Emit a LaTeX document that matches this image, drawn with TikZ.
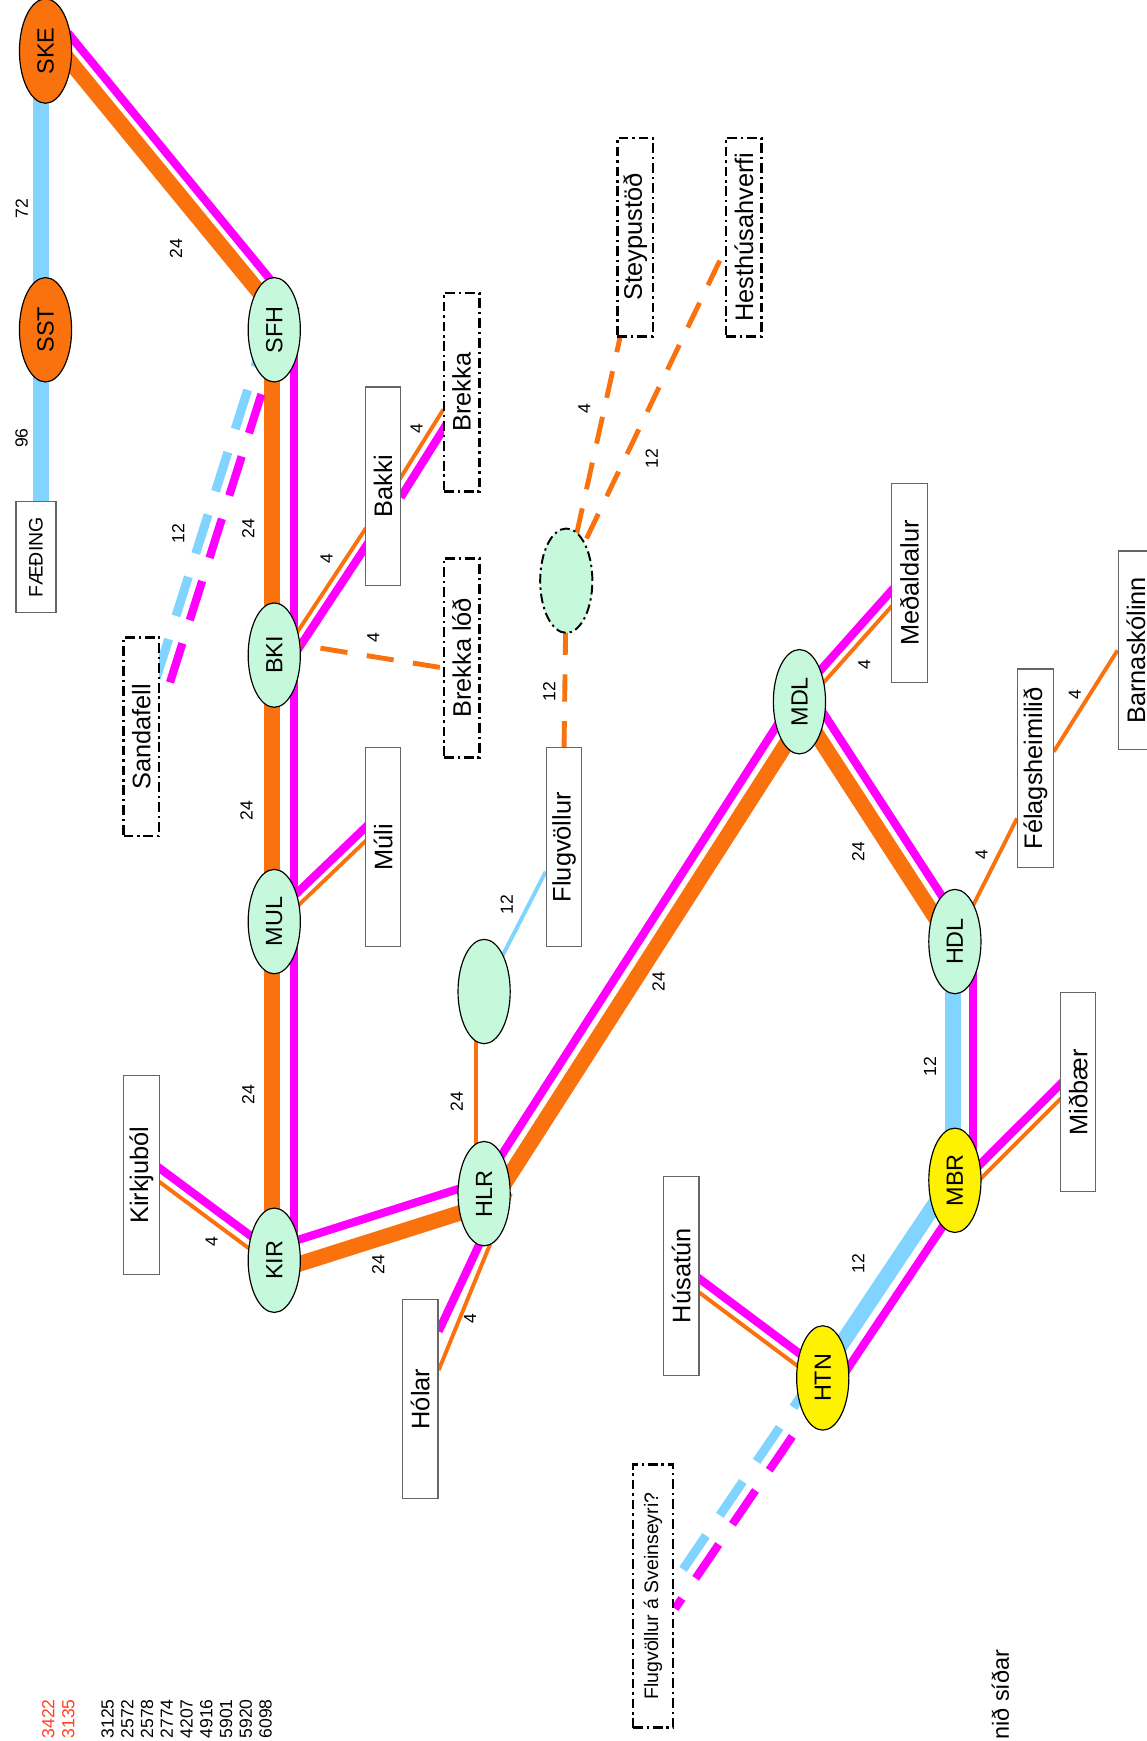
\documentclass[tikz,border=0pt]{standalone}
\usepackage{fontspec}
\setmainfont{Liberation Sans}
\usetikzlibrary{shapes.geometric}
\pgfdeclarelayer{back}
\pgfsetlayers{back,main}
\definecolor{pipeorange}{RGB}{250,114,14}
\definecolor{pipepink}{RGB}{255,0,255}
\definecolor{pipeblue}{RGB}{128,212,255}
\definecolor{stationgreen}{RGB}{198,249,220}
\definecolor{numred}{RGB}{255,64,32}
\newcommand{\up}[1]{\rotatebox{90}{#1}}

\begin{document}
\begin{tikzpicture}[x=0.02cm, y=-0.02cm,
		ring/.style={ellipse, draw, line width=0.6pt, minimum width=0.94cm, minimum height=1.88cm, inner sep=0pt, font=\fontsize{12}{14}\selectfont},
		station/.style={ring, fill=stationgreen},
		source/.style={ring, fill=pipeorange},
		hub/.style={ring, fill=yellow},
		place/.style={draw=black!60, line width=0.6pt, fill=white, minimum width=0.64cm, minimum height=3.58cm, inner sep=0pt, font=\fontsize{13}{15}\selectfont},
		planned/.style={place, draw=black, line width=1.3pt, dash pattern=on 5pt off 2pt on 1.2pt off 2pt},
		wt/.style={rotate=90, inner sep=0pt, font=\fontsize{9}{10}\selectfont},
		tally/.style={rotate=90, anchor=west, inner sep=0pt, font=\fontsize{9}{10}\selectfont},
		into/.style={shorten >=-5pt},
		outof/.style={shorten <=-5pt},
		heavy/.style={line width=8pt, pipeorange},
		hot/.style={line width=4.2pt, pipepink},
		cold/.style={line width=8pt, pipeblue},
		light/.style={line width=2pt, pipeorange},
		plan/.style={dash pattern=on 14pt off 10pt},
		planwide/.style={dash pattern=on 21pt off 12.5pt}]
		\useasboundingbox (0,0) rectangle (1033,1568);

		\node [source] (SKE) at (41,46) {\up{SKE}};
		\node [source] (SST) at (41,297) {\up{SST}};
		\node [station] (SFH) at (247,297) {\up{SFH}};
		\node [station] (BKI) at (247,590) {\up{BKI}};
		\node [station] (MUL) at (247,830) {\up{MUL}};
		\node [station] (KIR) at (247,1135) {\up{KIR}};
		\node [station] (HLR) at (436,1075) {\up{HLR}};
		\node [station] (blankA) at (436,893) {};
		\node [station, line width=1pt, dash pattern=on 5pt off 2pt on 1.2pt off 2pt] (blankB) at (510,523) {};
		\node [station] (MDL) at (720,632) {\up{MDL}};
		\node [station] (HDL) at (860,848) {\up{HDL}};
		\node [hub] (MBR) at (860,1063) {\up{MBR}};
		\node [hub] (HTN) at (741,1241) {\up{HTN}};

		\node [place, minimum width=0.72cm, minimum height=2cm, font=\fontsize{10}{12}\selectfont] (Faeding) at (32.4,502) {\up{FÆÐING}};
		\node [place] (Bakki) at (345,438) {\up{Bakki}};
		\node [place] (Muli) at (345,763) {\up{Múli}};
		\node [place] (Kirkjubol) at (127.3,1058.4) {\up{Kirkjuból}};
		\node [place] (Holar) at (378.5,1260) {\up{Hólar}};
		\node [place] (Flugv) at (508,763) {\up{Flugvöllur}};
		\node [place] (Medal) at (819,525) {\up{Meðaldalur}};
		\node [place] (Felag) at (932.5,692) {\up{Félagsheimilið}};
		\node [place] (Barna) at (1023,585.7) {\up{Barnaskólinn}};
		\node [place] (Midbaer) at (971,983.7) {\up{Miðbær}};
		\node [place] (Husa) at (613.5,1149) {\up{Húsatún}};
		\node [planned] (Sandafell) at (127.3,663.5) {\up{Sandafell}};
		\node [planned] (Brekka) at (415.8,353.2) {\up{Brekka}};
		\node [planned] (BrekkaLod) at (415.8,592.5) {\up{Brekka lóð}};
		\node [planned] (Steypu) at (572,213.6) {\up{Steypustöð}};
		\node [planned] (Hest) at (670,213.6) {\up{Hesthúsahverfi}};
		\node [planned, minimum width=0.72cm, minimum height=4.74cm, font=\fontsize{10}{12}\selectfont] (Svein) at (588,1437.5) {\up{Flugvöllur á Sveinseyri?}};

		\begin{pgfonlayer}{back}
			\draw [cold, transform canvas={shift={(-4,0)}}] (SKE.center) -- (SST.center);
			\draw [cold, transform canvas={shift={(-4,0)}}] (SST.center) -- (SST.center |- Faeding.north);
			\draw [heavy, transform canvas={shift={(8.5,-7)}}] (SKE.center) -- (SFH.center);
			\draw [hot, transform canvas={shift={(20,-16.5)}}] (SKE.center) -- (SFH.center);
			\draw [heavy, transform canvas={shift={(-2,0)}}] (SFH.center) -- (BKI.center);
			\draw [hot, transform canvas={shift={(18,0)}}] (SFH.center) -- (BKI.center);
			\draw [heavy, transform canvas={shift={(-2,0)}}] (BKI.center) -- (MUL.center);
			\draw [hot, transform canvas={shift={(18,0)}}] (BKI.center) -- (MUL.center);
			\draw [heavy, transform canvas={shift={(-2,0)}}] (MUL.center) -- (KIR.center);
			\draw [hot, transform canvas={shift={(18,0)}}] (MUL.center) -- (KIR.center);
			\draw [heavy, transform canvas={shift={(3,9.5)}}] (KIR.center) -- (HLR.center);
			\draw [hot, transform canvas={shift={(-3.3,-10.5)}}] (KIR.center) -- (HLR.center);
			\draw [heavy, transform canvas={shift={(8.8,5.7)}}] (HLR.center) -- (MDL.center);
			\draw [hot, transform canvas={shift={(-4.6,-3)}}] (HLR.center) -- (MDL.center);
			\draw [heavy, transform canvas={shift={(-2.5,1.6)}}] (MDL.center) -- (HDL.center);
			\draw [hot, transform canvas={shift={(10.5,-6.8)}}] (MDL.center) -- (HDL.center);
			\draw [cold, transform canvas={shift={(-1.5,0)}}] (HDL.center) -- (MBR.center);
			\draw [hot, transform canvas={shift={(16,0)}}] (HDL.center) -- (MBR.center);
			\draw [cold, transform canvas={shift={(-2.5,-1.7)}}] (MBR.center) -- (HTN.center);
			\draw [hot, transform canvas={shift={(11.6,7.8)}}] (MBR.center) -- (HTN.center);

			\draw [cold, line width=4.6pt, planwide, into, transform canvas={shift={(-5.7,-4)}}] (HTN.center) -- (Svein.east);
			\draw [hot, planwide, into, transform canvas={shift={(5.7,4)}}] (HTN.center) -- (Svein.east);
			\draw [cold, line width=4.6pt, planwide, into, transform canvas={shift={(-6.2,-1.9)}}] (SFH.center) -- ([yshift=0.86cm]Sandafell.east);
			\draw [hot, planwide, into, transform canvas={shift={(6.2,1.9)}}] (SFH.center) -- ([yshift=0.86cm]Sandafell.east);

			\draw [light, into, transform canvas={shift={(-3.75,-2.5)}}] ([yshift=-0.38cm]BKI.center) -- ([yshift=-0.95cm]Bakki.west);
			\draw [hot, into, transform canvas={shift={(3.75,2.5)}}] ([yshift=-0.38cm]BKI.center) -- ([yshift=-0.95cm]Bakki.west);
			\draw [light, outof, into, transform canvas={shift={(-4,-2.5)}}] (Bakki.east) -- ([yshift=-0.51cm]Brekka.west);
			\draw [hot, outof, into, transform canvas={shift={(4,2.5)}}] (Bakki.east) -- ([yshift=-0.51cm]Brekka.west);
			\draw [light, line width=2.5pt, plan] ([yshift=0.26cm]BKI.center) -- ([yshift=-0.18cm]BrekkaLod.west);

			\draw [light, line width=2.5pt, plan] (blankB.center) -- ([xshift=0.07cm]Steypu.south west);
			\draw [light, line width=2.5pt, plan] (blankB.center) -- ([yshift=-0.23cm]Hest.west);
			\draw [light, line width=2.5pt, plan] (blankB.center) -- (Flugv.north);
			\draw [line width=2pt, pipeblue] (blankA.center) -- ([yshift=-0.44cm]Flugv.west);
			\draw [light, transform canvas={shift={(-7,0)}}] (blankA.center) -- (HLR.center);

			\draw [light, into, transform canvas={shift={(-3,4)}}] (KIR.center) -- (Kirkjubol.east);
			\draw [hot, into, transform canvas={shift={(3,-4)}}] (KIR.center) -- (Kirkjubol.east);
			\draw [light, into, transform canvas={shift={(3.1,3.2)}}] (MUL.center) -- ([yshift=0.22cm]Muli.west);
			\draw [hot, into, transform canvas={shift={(-3.1,-3.2)}}] (MUL.center) -- ([yshift=0.22cm]Muli.west);
			\draw [hot] ([xshift=-0.14cm]HLR.east) -- ([yshift=1.22cm]Holar.east);
			\draw [light] (HLR.east) -- ([yshift=0.52cm]Holar.east);
			\draw [light, into, transform canvas={shift={(3.55,3.15)}}] (MDL.center) -- ([yshift=-0.29cm]Medal.west);
			\draw [hot, into, transform canvas={shift={(-3.55,-3.15)}}] (MDL.center) -- ([yshift=-0.29cm]Medal.west);
			\draw [light] (HDL.center) -- ([yshift=-0.9cm]Felag.west);
			\draw [light] ([yshift=0.3cm]Felag.east) -- (Barna.west);
			\draw [light, into, transform canvas={shift={(3.35,3.35)}}] ([yshift=-0.3cm]MBR.center) -- (Midbaer.west);
			\draw [hot, into, transform canvas={shift={(-3.35,-3.35)}}] ([yshift=-0.3cm]MBR.center) -- (Midbaer.west);
			\draw [light, into, transform canvas={shift={(-3,4)}}] (HTN.center) -- ([yshift=-0.18cm]Husa.east);
			\draw [hot, into, transform canvas={shift={(3,-4)}}] (HTN.center) -- ([yshift=-0.18cm]Husa.east);
		\end{pgfonlayer}

		\node [wt] (w1) at (19.5,394.6) {96};
		\node [wt] (w2) at (19.5,187.8) {72};
		\node [wt] (w3) at (158.5,224) {24};
		\node [wt] (w4) at (160.6,480.7) {12};
		\node [wt] (w5) at (223.6,476) {24};
		\node [wt] (w6) at (294.2,503.2) {4};
		\node [wt] (w7) at (375.2,386) {4};
		\node [wt] (w8) at (336.2,574) {4};
		\node [wt] (w9) at (222.1,730) {24};
		\node [wt] (w10) at (526.2,367.7) {4};
		\node [wt] (w11) at (586.9,412.8) {12};
		\node [wt] (w12) at (494.7,622.9) {12};
		\node [wt] (w13) at (456.3,815) {12};
		\node [wt] (w14) at (223.6,986) {24};
		\node [wt] (w15) at (190.6,1118.2) {4};
		\node [wt] (w16) at (340.7,1139.2) {24};
		\node [wt] (w17) at (411.3,992.1) {24};
		\node [wt] (w18) at (423.3,1187.3) {4};
		\node [wt] (w19) at (593,884) {24};
		\node [wt] (w20) at (778.4,598.9) {4};
		\node [wt] (w21) at (773,767) {24};
		\node [wt] (w22) at (884,770) {4};
		\node [wt] (w23) at (968.1,625.9) {4};
		\node [wt] (w24) at (837.5,960.6) {12};
		\node [wt] (w25) at (773,1137.7) {12};

		\node [tally, text=numred] (r1) at (43.5,1566) {3422};
		\node [tally, text=numred] (r2) at (61.5,1566) {3135};
		\node [tally] (b1) at (96.8,1566) {3125};
		\node [tally] (b2) at (114.6,1566) {2572};
		\node [tally] (b3) at (132.4,1566) {2578};
		\node [tally] (b4) at (150.2,1566) {2774};
		\node [tally] (b5) at (168,1566) {4207};
		\node [tally] (b6) at (185.8,1566) {4916};
		\node [tally] (b7) at (203.6,1566) {5901};
		\node [tally] (b8) at (221.4,1566) {5920};
		\node [tally] (b9) at (239.2,1566) {6098};
		\node [tally, font=\fontsize{12}{14}\selectfont] (later) at (901,1567) {nið síðar};
\end{tikzpicture}
\end{document}
